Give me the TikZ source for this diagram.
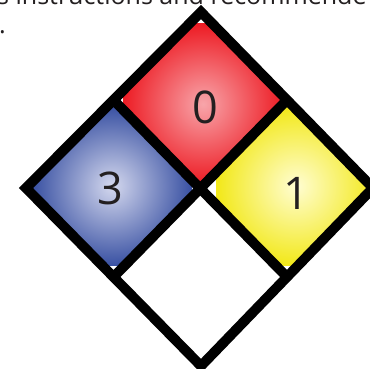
\documentclass[tikz,border=0pt]{standalone}
\usepackage{fontspec}
\setmainfont{Open Sans}
\definecolor{redout}{RGB}{237,28,36}
\definecolor{redin}{RGB}{248,165,170}
\definecolor{blueout}{RGB}{56,80,162}
\definecolor{bluein}{RGB}{212,216,238}
\definecolor{yellowout}{RGB}{242,232,24}
\definecolor{yellowin}{RGB}{255,253,210}
\definecolor{ink}{RGB}{35,31,32}
\begin{document}
\begin{tikzpicture}[x=1pt,y=1pt,
  frame/.style={line width=10pt, line join=miter, draw=black},
  digit/.style={font=\fontsize{45}{50}\selectfont, text=ink, inner sep=0pt},
  textline/.style={font=\fontsize{25}{30}\selectfont, text=ink, inner sep=0pt, anchor=base west}]
\useasboundingbox (0,0) rectangle (370,369);
\clip (0,0) rectangle (370,369);
\fill[white] (0,0) rectangle (370,369);
% vertices
\coordinate (T) at (201,357);
\coordinate (L) at (26,181);
\coordinate (R) at (373,181);
\coordinate (B) at (201,3);
\coordinate (mTL) at (113.5,269);
\coordinate (mTR) at (287,269);
\coordinate (mBL) at (113.5,92);
\coordinate (mBR) at (287,92);
\coordinate (C) at (200.25,180.5);
% red
\begin{scope}
  \clip (T)--(mTR)--(C)--(mTL)--cycle;
  \shade[inner color=redin, outer color=redout] (123,185) rectangle (283,345);
\end{scope}
% blue
\begin{scope}
  \clip (mTL)--(C)--(mBL)--(L)--cycle;
  \shade[inner color=bluein, outer color=blueout] (32,103) rectangle (192,263);
\end{scope}
% yellow
\begin{scope}
  \clip (mTR)--(R)--(mBR)--(C)--cycle;
  \shade[inner color=yellowin, outer color=yellowout] (216,103) rectangle (376,263);
\end{scope}
% white
\fill[white] (C)--(mBR)--(B)--(mBL)--cycle;
% frame
\draw[frame] (T)--(R)--(B)--(L)--cycle;
\draw[frame] (mTL)--(mBR);
\draw[frame] (mTR)--(mBL);
% digits
\node[digit] (n0) at (205,262) {0};
\node[digit] (n3) at (110,181) {3};
\node[digit] (n1) at (296,176) {1};
% cut-off text
\node[textline] (t1) at (-3,364) {s instructions and recommende};
\node[textline] (t2) at (-1,335) {.};
\end{tikzpicture}
\end{document}
